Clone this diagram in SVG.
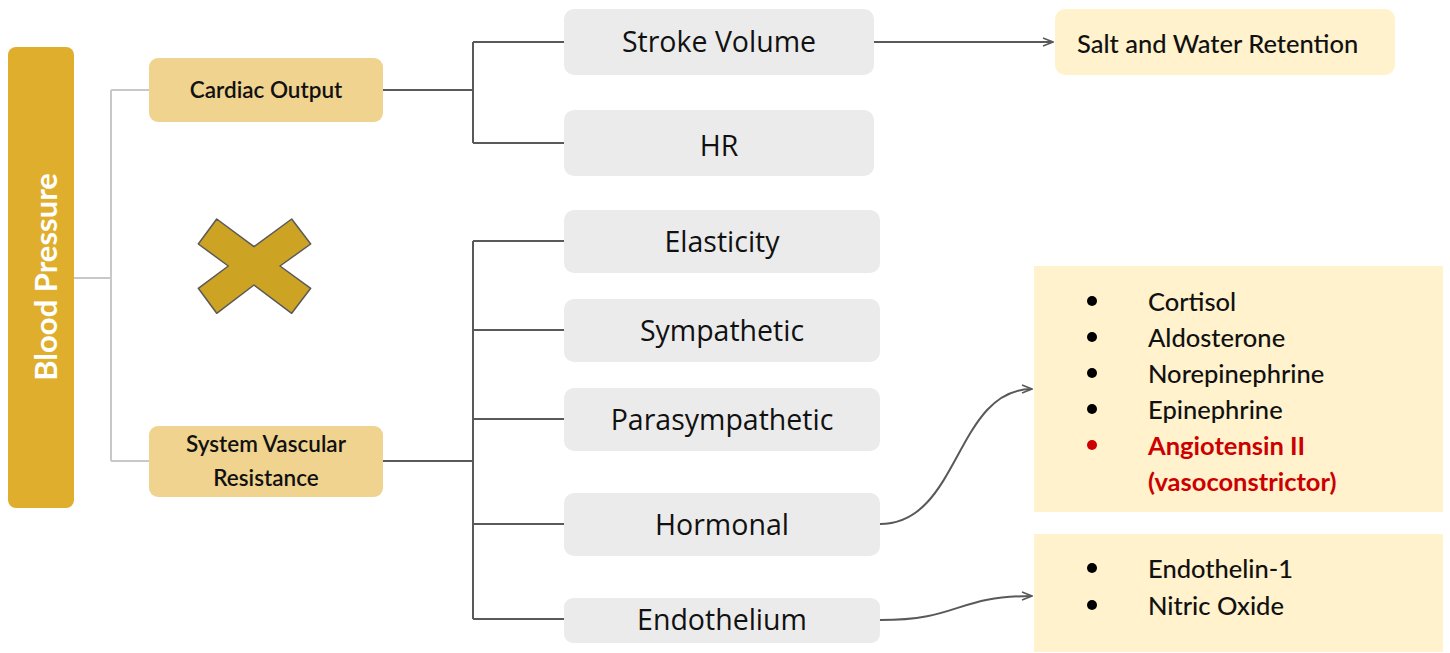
<svg xmlns="http://www.w3.org/2000/svg" width="1450" height="653" viewBox="0 0 1450 653">
<style>
.gbox{fill:#ebebeb}
.ybox{fill:#efd38e}
.lbox{fill:#fff2cc}
.gt{font-family:"Open Sans","Noto Sans",sans-serif;font-size:28.5px;fill:#111;text-anchor:middle;dominant-baseline:central}
.yt{font-family:Lato,"Noto Sans",sans-serif;font-size:22.5px;font-weight:600;fill:#111;text-anchor:middle;dominant-baseline:central}
.lt{font-family:Lato,"Noto Sans",sans-serif;font-size:25.5px;font-weight:500;fill:#111;dominant-baseline:central}
.red{fill:#cc0000;font-weight:700}
.c1{fill:none;stroke:#c8c8c8;stroke-width:2}
.c2{fill:none;stroke:#595959;stroke-width:2}
</style>
<defs>
<marker id="arr" viewBox="0 0 12 10" refX="11" refY="5" markerWidth="12" markerHeight="10" markerUnits="userSpaceOnUse" orient="auto">
<path d="M1,1 L11,5 L1,9" fill="none" stroke="#595959" stroke-width="1.5"/>
</marker>
</defs>
<rect width="1450" height="653" fill="#ffffff"/>
<g id="connectors">
<path class="c1" d="M74,278 H111 M111,90 V461 M111,90 H149 M111,461 H149"/>
<path class="c2" d="M383,90 H473 M473,42 V143 M473,42 H564 M473,143 H564"/>
<path class="c2" d="M383,461 H473 M473,241 V619 M473,241 H564 M473,330 H564 M473,419 H564 M473,524 H564 M473,619 H564"/>
<path class="c2" d="M874,42 H1053" marker-end="url(#arr)"/>
<path class="c2" d="M880,524 C960,524 955,389 1032,389" marker-end="url(#arr)"/>
<path class="c2" d="M880,620 C960,620 955,596 1032,596" marker-end="url(#arr)"/>
</g>
<g id="blood-pressure">
<rect x="8" y="47" width="66" height="461" rx="8" fill="#e0ae2d"/>
<text transform="translate(45,277) rotate(-90)" font-family="Lato,'Noto Sans',sans-serif" font-size="31" font-weight="700" fill="#ffffff" text-anchor="middle" dominant-baseline="central">Blood Pressure</text>
</g>
<g id="cross">
<polygon points="216.7,219 254,246.7 291.7,219 310.7,244 280,266 310.7,288.3 291.7,313.3 254,285 216.7,313.3 198.3,288.3 228.3,266 198.3,244" fill="#cda323" stroke="#595959" stroke-width="1.5" stroke-linejoin="round"/>
</g>
<g id="cardiac-output">
<rect class="ybox" x="149" y="58" width="234" height="64" rx="9"/>
<text class="yt" x="266" y="89">Cardiac Output</text>
</g>
<g id="svr">
<rect class="ybox" x="149" y="426" width="234" height="71" rx="9"/>
<text class="yt" x="266" y="443">System Vascular</text>
<text class="yt" x="266" y="477">Resistance</text>
</g>
<g id="stroke-volume">
<rect class="gbox" x="564" y="9" width="310" height="66" rx="10"/>
<text class="gt" x="719" y="41">Stroke Volume</text>
</g>
<g id="hr">
<rect class="gbox" x="564" y="110" width="310" height="66" rx="10"/>
<text class="gt" x="719" y="145">HR</text>
</g>
<g id="elasticity">
<rect class="gbox" x="564" y="210" width="316" height="63" rx="10"/>
<text class="gt" x="722" y="241">Elasticity</text>
</g>
<g id="sympathetic">
<rect class="gbox" x="564" y="299" width="316" height="63" rx="10"/>
<text class="gt" x="722" y="330">Sympathetic</text>
</g>
<g id="parasympathetic">
<rect class="gbox" x="564" y="388" width="316" height="63" rx="10"/>
<text class="gt" x="722" y="419">Parasympathetic</text>
</g>
<g id="hormonal">
<rect class="gbox" x="564" y="493" width="316" height="63" rx="10"/>
<text class="gt" x="722" y="524">Hormonal</text>
</g>
<g id="endothelium">
<rect class="gbox" x="564" y="598" width="316" height="45" rx="9"/>
<text class="gt" x="722" y="619">Endothelium</text>
</g>
<g id="salt-water">
<rect class="lbox" x="1055" y="9" width="340" height="66" rx="10"/>
<text class="lt" x="1077" y="43" font-size="24.5">Salt and Water Retention</text>
</g>
<g id="hormones">
<rect class="lbox" x="1034" y="266" width="409" height="246"/>
<circle cx="1092" cy="301" r="5" fill="#000"/>
<circle cx="1092" cy="337" r="5" fill="#000"/>
<circle cx="1092" cy="373" r="5" fill="#000"/>
<circle cx="1092" cy="409" r="5" fill="#000"/>
<circle cx="1092" cy="445" r="5" fill="#cc0000"/>
<text class="lt" x="1148" y="301">Cortisol</text>
<text class="lt" x="1148" y="337">Aldosterone</text>
<text class="lt" x="1148" y="373">Norepinephrine</text>
<text class="lt" x="1148" y="409">Epinephrine</text>
<text class="lt red" x="1148" y="445">Angiotensin II</text>
<text class="lt red" x="1148" y="481">(vasoconstrictor)</text>
</g>
<g id="endothelium-factors">
<rect class="lbox" x="1034" y="534" width="409" height="118"/>
<circle cx="1092" cy="568" r="5" fill="#000"/>
<circle cx="1092" cy="605" r="5" fill="#000"/>
<text class="lt" x="1148" y="568">Endothelin-1</text>
<text class="lt" x="1148" y="605">Nitric Oxide</text>
</g>
</svg>
